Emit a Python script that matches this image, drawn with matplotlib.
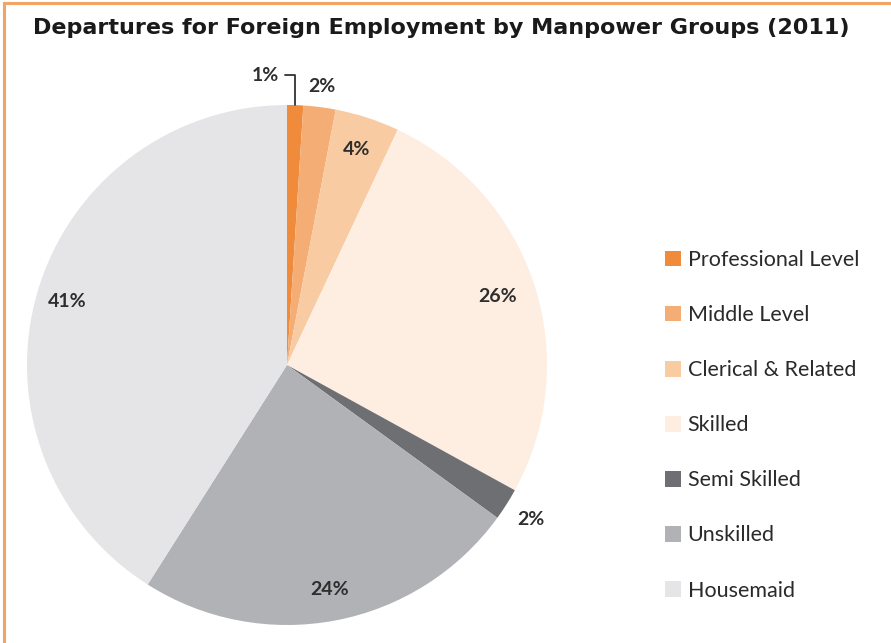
import numpy as np
import matplotlib
matplotlib.use("Agg")
import matplotlib.pyplot as plt
from matplotlib.lines import Line2D

title = "Departures for Foreign Employment by Manpower Groups (2011)"
categories = ["Professional Level", "Middle Level", "Clerical & Related", "Skilled",
              "Semi Skilled", "Unskilled", "Housemaid"]
values = [1, 2, 4, 26, 2, 24, 41]
colors = ["#EF8B3B", "#F4AD74", "#F8CBA2", "#FDEEE1", "#6E6F73", "#B1B2B6", "#E5E5E8"]
label_dist = [None, 1.08, 0.87, 0.85, 1.11, 0.88, 0.88]

W, H = 891, 643
fig = plt.figure(figsize=(W / 100, H / 100), dpi=100)

# orange frame (top and left)
fig.add_artist(Line2D([4 / W, 1], [1 - 3 / H, 1 - 3 / H], color="#F2A466", lw=2.2))
fig.add_artist(Line2D([4 / W, 4 / W], [0, 1 - 3 / H], color="#F2A466", lw=2.2))

fig.text(441 / W, 1 - 28 / H, title, ha="center", va="center",
         fontsize=16, fontweight="bold", color="#1a1a1a", family="DejaVu Sans")

cx, cy, r = 287, 365, 260
ax = fig.add_axes([(cx - r) / W, (H - cy - r) / H, 2 * r / W, 2 * r / H])
wedges, _ = ax.pie(values, colors=colors, startangle=90, counterclock=False,
                   radius=1, wedgeprops=dict(linewidth=0))
ax.set_xlim(-1, 1)
ax.set_ylim(-1, 1)
ax.set_aspect("equal")
ax.axis("off")

lab_font = dict(fontsize=14, fontweight="bold", color="#2e2e2e", family="Lato")
for i, w in enumerate(wedges):
    ang = np.deg2rad((w.theta1 + w.theta2) / 2)
    txt = f"{values[i]}%"
    if label_dist[i] is None:
        x0, y0 = np.cos(ang), np.sin(ang)
        ax.annotate(txt, xy=(x0, y0), xytext=(-0.03, 1.115), ha="right", va="center",
                    arrowprops=dict(arrowstyle="-", color="#333333", lw=1.3,
                                    connectionstyle="angle,angleA=0,angleB=90,rad=0",
                                    shrinkA=2, shrinkB=0),
                    annotation_clip=False, **lab_font)
    else:
        d = label_dist[i]
        ax.text(d * np.cos(ang), d * np.sin(ang), txt, ha="center", va="center", **lab_font)

leg = fig.legend(wedges, categories, loc="upper left",
                 bbox_to_anchor=(665 / W, 1 - 250 / H), frameon=False,
                 prop=dict(family="Lato", size=15.5), handlelength=0.75, handleheight=0.75,
                 handletextpad=0.3, labelspacing=1.63, borderpad=0, borderaxespad=0)
for t in leg.get_texts():
    t.set_color("#2a2a2a")

fig.savefig("out.png", dpi=100)
